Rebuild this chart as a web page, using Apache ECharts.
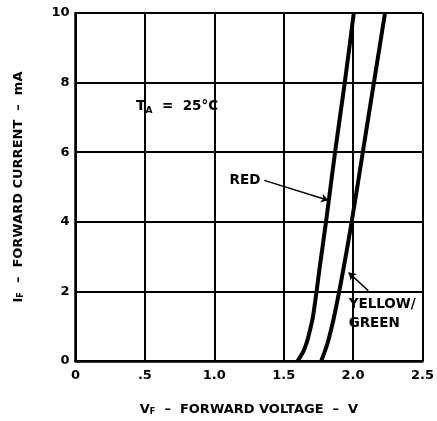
<!DOCTYPE html>
<html>
<head>
<meta charset="utf-8">
<script src="https://cdn.jsdelivr.net/npm/echarts@6/dist/echarts.min.js"></script>
<style>
html,body{margin:0;padding:0;background:#fff;}
#chart{width:437px;height:421px;}
</style>
</head>
<body>
<div id="chart"></div>
<script>
// Forward voltage (V) vs forward current (mA)
const redVoltage = [1.60, 1.640, 1.667, 1.689, 1.710, 1.737, 1.759, 1.805, 1.870, 1.940, 2.005];
const redCurrent = [0, 0.26, 0.54, 0.88, 1.25, 2, 2.68, 4, 6, 8, 10];
const ygVoltage = [1.77, 1.795, 1.818, 1.840, 1.862, 1.900, 1.932, 1.990, 2.070, 2.150, 2.230];
const ygCurrent = [0, 0.26, 0.54, 0.88, 1.25, 2, 2.68, 4, 6, 8, 10];
const xTicks = ['0', '.5', '1.0', '1.5', '2.0', '2.5'];
const yTicks = ['0', '2', '4', '6', '8', '10'];
// annotation texts and their anchor points (data coordinates)
const noteTexts = ['{t|T}{s|A}  =  25°C', 'RED', 'YELLOW/', 'GREEN'];
const noteX = [0.436, 1.11, 1.968, 1.968];
const noteY = [7.32, 5.19, 1.62, 1.08];
// arrows: [fromV, fromI, toV, toI]
const arrows = [[1.36, 5.19, 1.82, 4.62], [2.11, 2.02, 1.968, 2.54]];

const pair = (xs, ys) => xs.map((x, i) => [x, ys[i]]);
const font = 'DejaVu Sans, Liberation Sans, Arial, sans-serif';
const chart = echarts.init(document.getElementById('chart'));

chart.setOption({
  animation: false,
  backgroundColor: '#fff',
  grid: {left: 75.5, right: 9, top: 13, bottom: 57},
  xAxis: {
    type: 'value', min: 0, max: 2.5, interval: 0.5,
    axisLine: {show: true, lineStyle: {color: '#000', width: 2.5}},
    axisTick: {show: false},
    splitLine: {show: true, lineStyle: {color: '#000', width: 2}},
    axisLabel: {color: '#000', fontWeight: 'bold', fontSize: 13, fontFamily: font, margin: 8,
      formatter: (v) => xTicks[Math.round(v / 0.5)]},
    name: 'V{sub|F}  –  FORWARD VOLTAGE  –  V',
    nameLocation: 'middle', nameGap: 42,
    nameTextStyle: {color: '#000', fontWeight: 'bold', fontSize: 13, fontFamily: font,
      rich: {sub: {fontSize: 8, fontWeight: 'bold', fontFamily: font, color: '#000', padding: [4,0,0,0]}}}
  },
  yAxis: {
    type: 'value', min: 0, max: 10, interval: 2,
    axisLine: {show: true, lineStyle: {color: '#000', width: 2.5}},
    axisTick: {show: false},
    splitLine: {show: true, lineStyle: {color: '#000', width: 2}},
    axisLabel: {color: '#000', fontWeight: 'bold', fontSize: 13, fontFamily: font, margin: 6,
      formatter: (v) => yTicks[Math.round(v / 2)]},
    name: 'I{sub|F}  –  FORWARD CURRENT  –  mA',
    nameLocation: 'middle', nameGap: 50, nameRotate: 90,
    nameTextStyle: {color: '#000', fontWeight: 'bold', fontSize: 13, fontFamily: font,
      rich: {sub: {fontSize: 8, fontWeight: 'bold', fontFamily: font, color: '#000', padding: [4,0,0,0]}}}
  },
  series: [
    {
      name: 'RED', type: 'line', smooth: 0.3, symbol: 'none',
      data: pair(redVoltage, redCurrent),
      lineStyle: {color: '#000', width: 4}
    },
    {
      name: 'YELLOW/GREEN', type: 'line', smooth: 0.3, symbol: 'none',
      data: pair(ygVoltage, ygCurrent),
      lineStyle: {color: '#000', width: 4}
    },
    {
      name: 'notes', type: 'scatter', symbolSize: 0, silent: true,
      itemStyle: {opacity: 1, color: '#000'},
      data: noteTexts.map((t, i) => ({value: [noteX[i], noteY[i]], name: t})),
      label: {
        show: true, position: 'right', distance: 0, opacity: 1,
        formatter: (p) => p.name,
        color: '#000', fontWeight: 'bold', fontSize: 13.5, fontFamily: font,
        rich: {
          t: {fontSize: 14, fontWeight: 'bold', fontFamily: font, color: '#000'},
          s: {fontSize: 9, fontWeight: 'bold', fontFamily: font, color: '#000', padding: [8,0,0,0]}
        }
      },
      markLine: {
        symbol: ['none', 'arrow'], symbolSize: 7, silent: true,
        label: {show: false},
        lineStyle: {color: '#000', width: 1.5, type: 'solid', opacity: 1},
        data: arrows.map(a => [{coord: [a[0], a[1]]}, {coord: [a[2], a[3]]}])
      }
    }
  ]
});
</script>
</body>
</html>
